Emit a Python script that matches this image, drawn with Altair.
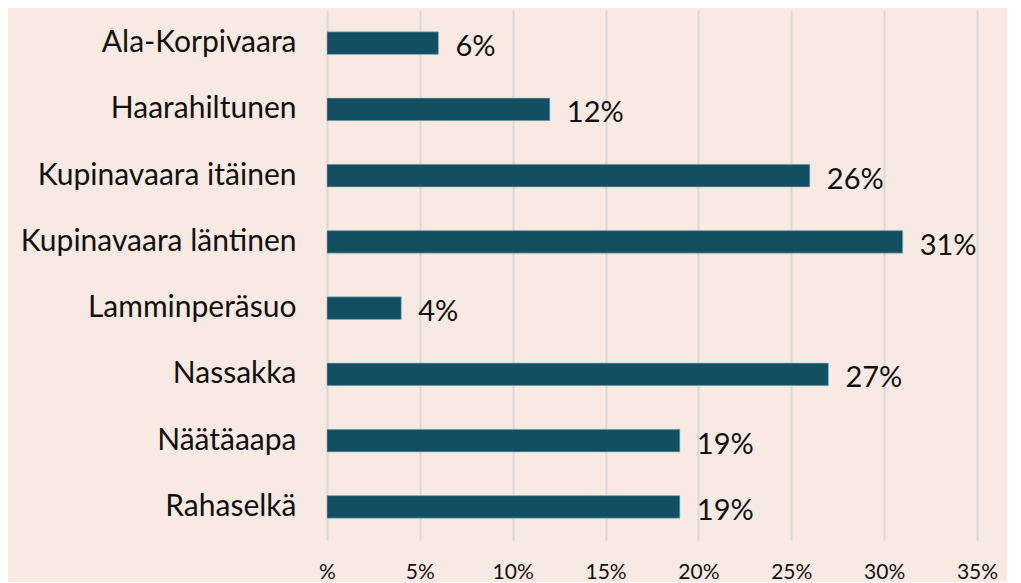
import altair as alt
import pandas as pd

categories = ["Ala-Korpivaara", "Haarahiltunen", "Kupinavaara itäinen",
              "Kupinavaara läntinen", "Lamminperäsuo", "Nassakka",
              "Näätäaapa", "Rahaselkä"]
values = [6, 12, 26, 31, 4, 27, 19, 19]
labels = ["6%", "12%", "26%", "31%", "4%", "27%", "19%", "19%"]
tick_values = [0, 5, 10, 15, 20, 25, 30, 35]

df = pd.DataFrame({"cat": categories, "val": values, "lab": labels})

FONT = "Lato"
BG = "#F8E9E2"

base = alt.Chart(df)

bars = base.mark_bar(color="#124F63", stroke="#9BB3BC", strokeWidth=0.6).encode(
    y=alt.Y("cat:N", sort=categories, title=None,
            scale=alt.Scale(paddingInner=0.66, paddingOuter=0.33),
            axis=alt.Axis(labelFontSize=30, labelFont=FONT, labelColor="#111111",
                          labelPadding=31, ticks=False, domain=False, labelLimit=400)),
    x=alt.X("val:Q", title=None,
            scale=alt.Scale(domain=[0, 35], nice=False),
            axis=alt.Axis(values=tick_values,
                          labelExpr="datum.value == 0 ? '%' : datum.value + '%'",
                          labelFontSize=21, labelFont=FONT, labelColor="#111111",
                          labelPadding=21, labelFlush=False, ticks=False, domain=False,
                          grid=True, gridColor="#D9D9D9", gridWidth=2)),
)

text = base.mark_text(align="left", baseline="middle", dx=17, dy=4,
                      fontSize=29, font=FONT, color="#111111").encode(
    y=alt.Y("cat:N", sort=categories),
    x="val:Q",
    text="lab:N",
)

chart = (bars + text).properties(
    width=650, height=530,
    background=BG,
    padding={"left": 319, "top": 2, "right": 30, "bottom": 42},
    autosize=alt.AutoSizeParams(type="none"),
).configure_view(stroke=None)

chart.save("out.html", embed_options={"renderer": "svg", "actions": False})
